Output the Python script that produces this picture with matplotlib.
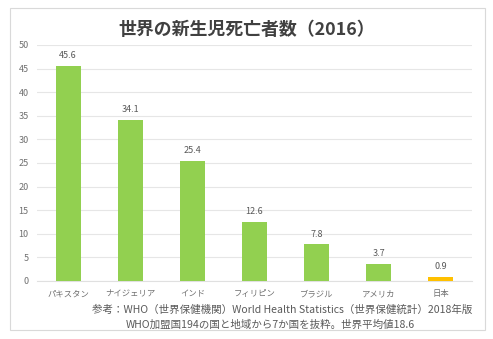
import matplotlib.pyplot as plt
from matplotlib.patches import Rectangle

plt.rcParams["font.family"] = ["Noto Sans CJK JP", "DejaVu Sans"]

# Data
countries = ["パキスタン", "ナイジェリア", "インド", "フィリピン", "ブラジル", "アメリカ", "日本"]
deaths = [45.6, 34.1, 25.4, 12.6, 7.8, 3.7, 0.9]
bar_colors = ["#92D050"] * 6 + ["#FFC000"]
yticks = [0, 5, 10, 15, 20, 25, 30, 35, 40, 45, 50]

text_color = "#595959"

fig = plt.figure(figsize=(4.93, 3.39), dpi=100)
fig.patches.append(
    Rectangle((10 / 493, 1 - 330 / 339), 475 / 493, 322 / 339,
              transform=fig.transFigure, fill=False, edgecolor="#D9D9D9",
              linewidth=0.8)
)

ax = fig.add_axes([37 / 493, 1 - 281 / 339, 435 / 493, 236 / 339])
x = range(len(countries))
bars = ax.bar(x, deaths, width=0.4, color=bar_colors, zorder=3)
for xi, v in zip(x, deaths):
    ax.text(xi, v + 1.2, f"{v}", ha="center", va="bottom",
            fontsize=6.5, color=text_color)

ax.set_xlim(-0.5, len(countries) - 0.5)
ax.set_ylim(0, 50)
ax.set_yticks(yticks)
ax.set_xticks(list(x))
ax.set_xticklabels(countries, fontsize=6, color="#707070")
ax.tick_params(axis="y", labelsize=6.5, colors="#707070", length=0, pad=6)
ax.tick_params(axis="x", length=0, pad=6)
ax.grid(axis="y", color="#E6E6E6", linewidth=0.8, zorder=0)
for s in ["top", "right", "left"]:
    ax.spines[s].set_visible(False)
ax.spines["bottom"].set_color("#E0E0E0")

fig.text(0.5, 1 - 30 / 339, "世界の新生児死亡者数（2016）", ha="center",
         va="center", fontsize=12.9, fontweight="bold", color="#404040")
fig.text(472 / 493, 1 - 310 / 339,
         "参考：WHO（世界保健機関）World Health Statistics（世界保健統計）2018年版",
         ha="right", va="center", fontsize=7.55, color=text_color)
fig.text(270 / 493, 1 - 325 / 339,
         "WHO加盟国194の国と地域から7か国を抜粋。世界平均値18.6",
         ha="center", va="center", fontsize=7.55, color=text_color)

fig.savefig("out.png", dpi=100)
